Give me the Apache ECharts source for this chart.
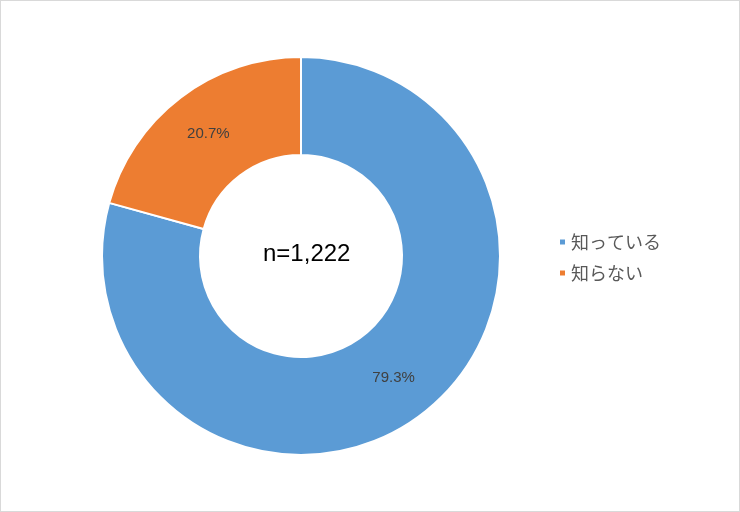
<!DOCTYPE html>
<html>
<head>
<meta charset="utf-8">
<script src="https://cdn.jsdelivr.net/npm/echarts@6/dist/echarts.min.js"></script>
<style>
html,body{margin:0;padding:0;background:#fff;}
#c{width:740px;height:512px;box-sizing:border-box;border:1px solid #d9d9d9;}
</style>
</head>
<body>
<div id="c"></div>
<script>
const categories = ['知っている', '知らない'];
const values = [79.3, 20.7];
const colors = ['#5B9BD5', '#ED7D31'];
const centerText = 'n=1,222';

const chart = echarts.init(document.getElementById('c'));
chart.setOption({
  animation: false,
  color: colors,
  legend: {
    orient: 'vertical',
    left: 552,
    top: 225,
    icon: 'rect',
    itemWidth: 7,
    itemHeight: 7,
    itemGap: 9,
    textStyle: { color: '#595959', fontSize: 18, lineHeight: 22, fontFamily: 'Noto Sans CJK JP' },
    data: categories
  },
  graphic: [{
    type: 'text',
    left: 262,
    top: 241,
    style: { text: centerText, fill: '#000', fontSize: 24, fontFamily: 'Liberation Sans' }
  }],
  series: [{
    type: 'pie',
    center: [300, 255],
    radius: [101, 199],
    startAngle: 90,
    clockwise: true,
    itemStyle: { borderColor: '#fff', borderWidth: 2 },
    label: {
      position: 'inside',
      formatter: '{c}%',
      color: '#404040',
      fontSize: 15,
      fontFamily: 'Liberation Sans'
    },
    labelLine: { show: false },
    emphasis: { disabled: true },
    data: categories.map((n, i) => ({ name: n, value: values[i] }))
  }]
});
</script>
</body>
</html>
